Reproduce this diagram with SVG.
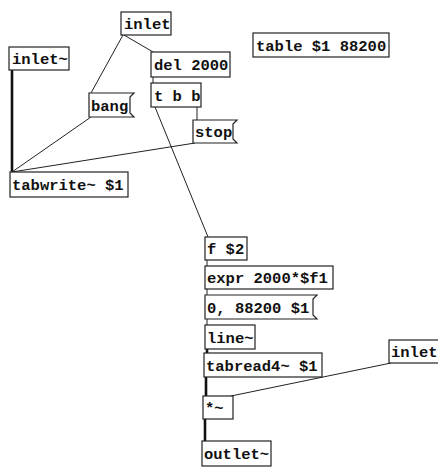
<svg xmlns="http://www.w3.org/2000/svg" width="438" height="468" viewBox="0 0 438 468">
<style>
.box{fill:#fff;stroke:#222;stroke-width:1.2}
.t{font-family:"Liberation Mono","DejaVu Sans Mono",monospace;font-weight:bold;font-size:15.5px;fill:#111}
.c{stroke:#222;stroke-width:1;fill:none}
.s{stroke:#111;stroke-width:2.6;fill:none}
.io{fill:#222}
</style>
<rect width="438" height="468" fill="#fff"/>
<g id="connectors">
<line class="c" x1="123" y1="35" x2="91" y2="93"/>
<line class="c" x1="124" y1="35" x2="153" y2="52"/>
<line class="c" x1="153" y1="77" x2="153" y2="83"/>
<line class="c" x1="197" y1="107" x2="197" y2="120"/>
<line class="c" x1="155" y1="107" x2="208" y2="237"/>
<line class="c" x1="91" y1="117" x2="12" y2="172"/>
<line class="c" x1="195" y1="143" x2="12" y2="172"/>
<line class="s" x1="12" y1="70" x2="12" y2="172"/>
<line class="c" x1="207" y1="260" x2="207" y2="266"/>
<line class="c" x1="207" y1="289" x2="207" y2="295"/>
<line class="c" x1="207" y1="319" x2="207" y2="325"/>
<line class="s" x1="207" y1="349" x2="207" y2="353"/>
<line class="s" x1="206" y1="377" x2="206" y2="396"/>
<line class="c" x1="391" y1="363" x2="231" y2="396"/>
<line class="s" x1="205" y1="419" x2="205" y2="441"/>
</g>
<g id="inlet_top"><rect class="box" x="121" y="12" width="50" height="23"/><text class="t" x="124" y="29">inlet</text></g>
<g id="inlet_sig"><rect class="box" x="9" y="47" width="60" height="23"/><text class="t" x="12" y="64">inlet~</text></g>
<g id="del"><rect class="box" x="151" y="52" width="79" height="25"/><text class="t" x="154" y="70">del 2000</text></g>
<g id="tbb"><rect class="box" x="151" y="83" width="50" height="24"/><text class="t" x="154" y="101">t b b</text></g>
<g id="bang"><path class="box" d="M89,93 H134 L130,97 V113 L134,117 H89 Z"/><text class="t" x="91" y="111">bang</text></g>
<g id="stop"><path class="box" d="M193,120 H237 L233,124 V139 L237,143 H193 Z"/><text class="t" x="195" y="137">stop</text></g>
<g id="tabwrite"><rect class="box" x="10" y="172" width="118" height="25"/><text class="t" x="12" y="190">tabwrite~ $1</text></g>
<g id="table"><rect class="box" x="253" y="33" width="136" height="24"/><text class="t" x="256" y="51">table $1 88200</text></g>
<g id="f2"><rect class="box" x="205" y="237" width="42" height="23"/><text class="t" x="207" y="254">f $2</text></g>
<g id="expr"><rect class="box" x="205" y="266" width="128" height="23"/><text class="t" x="207" y="283">expr 2000*$f1</text></g>
<g id="msg"><path class="box" d="M205,295 H317 L313,299 V315 L317,319 H205 Z"/><text class="t" x="207" y="313">0, 88200 $1</text></g>
<g id="line"><rect class="box" x="205" y="325" width="50" height="24"/><text class="t" x="207" y="343">line~</text></g>
<g id="tabread"><rect class="box" x="204" y="353" width="118" height="24"/><text class="t" x="206" y="371">tabread4~ $1</text></g>
<g id="inlet_right"><rect class="box" x="389" y="340" width="55" height="23"/><text class="t" x="391" y="357">inlet</text></g>
<g id="mul"><rect class="box" x="203" y="396" width="30" height="23"/><text class="t" x="205" y="413">*~</text></g>
<g id="outlet"><rect class="box" x="202" y="441" width="69" height="25"/><text class="t" x="204" y="459">outlet~</text></g>
</svg>
